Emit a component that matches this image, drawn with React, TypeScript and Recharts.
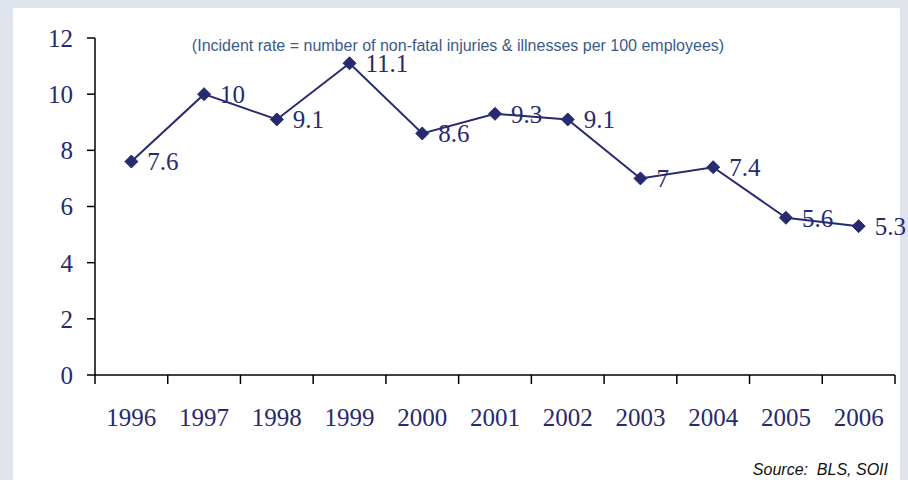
import React from 'react';
import { LineChart, Line, XAxis, YAxis, LabelList } from 'recharts';

const years = ['1996', '1997', '1998', '1999', '2000', '2001', '2002', '2003', '2004', '2005', '2006'];
const rates = [7.6, 10, 9.1, 11.1, 8.6, 9.3, 9.1, 7, 7.4, 5.6, 5.3];
const yTicks = [0, 2, 4, 6, 8, 10, 12];

const data = years.map((y, i) => ({ x: Number(y), rate: rates[i] }));
const boundaryTicks = [...years.map((y) => Number(y) - 0.5), Number(years[years.length - 1]) + 0.5];

const W = 908;
const H = 480;
const M = { top: 38, right: 13, bottom: 75, left: 15 };
const Y_AXIS_W = 80;
const PLOT_W = W - M.left - Y_AXIS_W - M.right;
const HALF_BAND = PLOT_W / years.length / 2;

const NAVY = '#272a6f';
const SERIF = '"Liberation Serif", "Times New Roman", serif';
const FS = 25;

const XTick = (props: any) => {
  const { x, y, index } = props;
  if (index >= years.length) return null;
  return (
    <text x={x + HALF_BAND} y={y} dy={40} textAnchor="middle" fill={NAVY} fontSize={FS} fontFamily={SERIF}>
      {years[index]}
    </text>
  );
};

const Diamond = (props: any) => {
  const { cx, cy } = props;
  if (cx == null || cy == null) return null;
  const s = 6.5;
  return (
    <polygon
      points={`${cx},${cy - s} ${cx + s},${cy} ${cx},${cy + s} ${cx - s},${cy}`}
      fill={NAVY}
      stroke={NAVY}
      strokeWidth={1}
    />
  );
};

export default function App() {
  return (
    <div style={{ position: 'absolute', left: 0, top: 0, width: W, height: H, background: '#dfe3ec', overflow: 'hidden' }}>
      <div style={{ position: 'absolute', left: 13, top: 8, width: 887, height: 472, background: '#ffffff' }} />
      <div style={{ position: 'absolute', left: 0, top: 0 }}>
        <LineChart width={W} height={H} data={data} margin={M}>
          <XAxis
            dataKey="x"
            type="number"
            domain={[boundaryTicks[0], boundaryTicks[boundaryTicks.length - 1]]}
            ticks={boundaryTicks}
            interval={0}
            tick={<XTick />}
            tickSize={9}
            tickMargin={2}
            height={30}
            stroke="#000"
            strokeWidth={1.5}
            axisLine={{ stroke: '#000', strokeWidth: 1.5 }}
            tickLine={{ stroke: '#000', strokeWidth: 1.5 }}
            allowDataOverflow
          />
          <YAxis
            type="number"
            domain={[0, 12]}
            ticks={yTicks}
            interval={0}
            width={Y_AXIS_W}
            tickSize={8}
            tickMargin={14}
            axisLine={{ stroke: '#000', strokeWidth: 1.5 }}
            tickLine={{ stroke: '#000', strokeWidth: 1.5 }}
            tick={{ fill: NAVY, fontSize: FS, fontFamily: SERIF }}
          />
          <Line
            type="linear"
            dataKey="rate"
            stroke={NAVY}
            strokeWidth={2}
            dot={<Diamond />}
            activeDot={false}
            isAnimationActive={false}
          >
            <LabelList dataKey="rate" position="right" offset={16} fill={NAVY} fontSize={FS} fontFamily={SERIF} />
          </Line>
        </LineChart>
      </div>
      <div
        style={{
          position: 'absolute',
          left: 0,
          width: 916,
          top: 38,
          textAlign: 'center',
          fontFamily: '"Liberation Sans", Arial, sans-serif',
          fontSize: 16,
          lineHeight: '16px',
          color: '#3a5a8c',
          whiteSpace: 'nowrap',
        }}
      >
        (Incident rate = number of non-fatal injuries &amp; illnesses per 100 employees)
      </div>
      <div
        style={{
          position: 'absolute',
          right: 20,
          top: 461,
          fontFamily: '"Liberation Sans", Arial, sans-serif',
          fontSize: 16,
          lineHeight: '18px',
          fontStyle: 'italic',
          color: '#111',
          whiteSpace: 'pre',
        }}
      >
        {'Source:  BLS, SOII'}
      </div>
    </div>
  );
}
